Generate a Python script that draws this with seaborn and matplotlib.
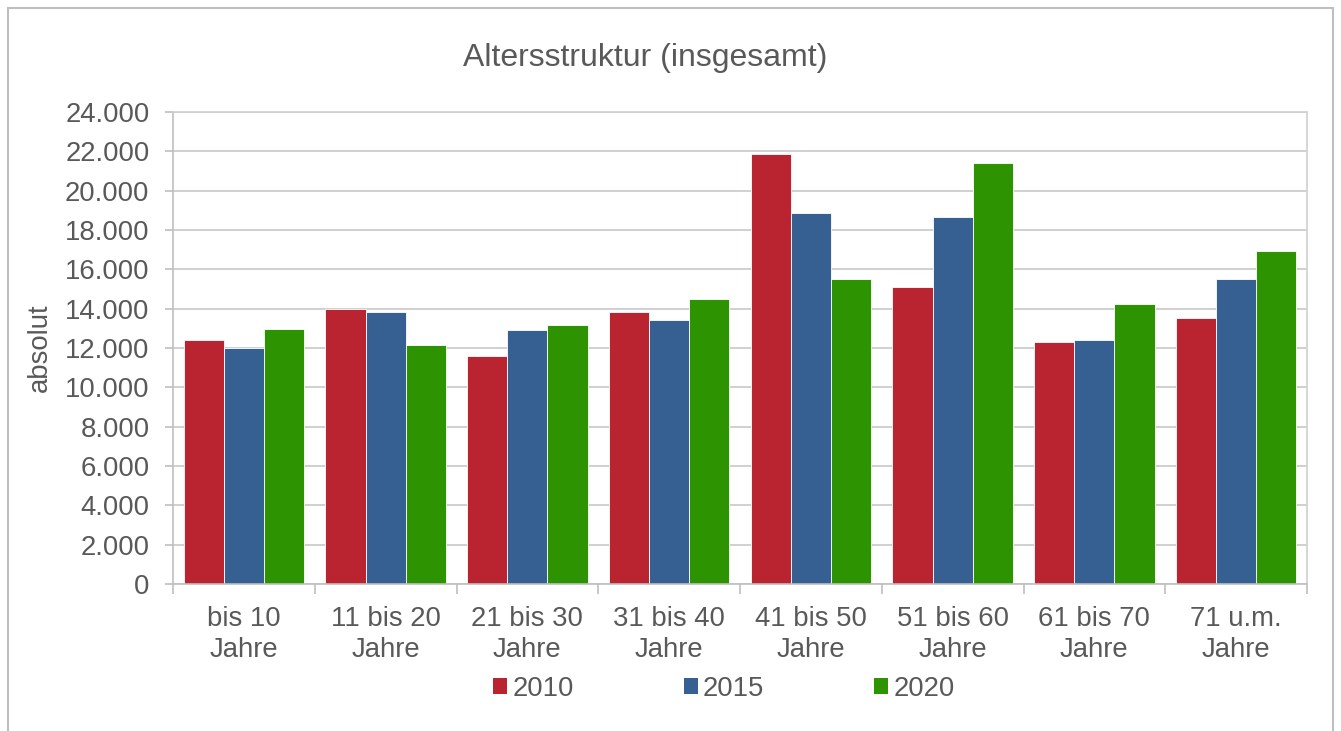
import numpy as np
import pandas as pd
import matplotlib
matplotlib.use("Agg")
import matplotlib.pyplot as plt
import seaborn as sns
from matplotlib.ticker import FuncFormatter, MultipleLocator, FixedLocator
from matplotlib.patches import Rectangle

# data
categories = ["bis 10\nJahre", "11 bis 20\nJahre", "21 bis 30\nJahre", "31 bis 40\nJahre",
              "41 bis 50\nJahre", "51 bis 60\nJahre", "61 bis 70\nJahre", "71 u.m.\nJahre"]
years = ["2010", "2015", "2020"]
values_2010 = [12410, 13980, 11590, 13830, 21880, 15080, 12320, 13530]
values_2015 = [12000, 13850, 12900, 13420, 18880, 18640, 12420, 15520]
values_2020 = [12990, 12170, 13190, 14490, 15520, 21410, 14240, 16950]
colors = ["#BA2330", "#366092", "#2E9300"]

df = pd.DataFrame({
    "Altersgruppe": categories * 3,
    "Jahr": [y for y in years for _ in categories],
    "Anzahl": values_2010 + values_2015 + values_2020,
})

sns.set_theme(style="white")
plt.rcParams["font.family"] = ["Liberation Sans", "DejaVu Sans"]
text_color = "#595959"
fs = 19.8

fig = plt.figure(figsize=(13.41, 7.31), dpi=100)
ax = fig.add_axes([173 / 1341, 1 - 584 / 731, (1307 - 173) / 1341, (584 - 112) / 731])

sns.barplot(data=df, x="Altersgruppe", y="Anzahl", hue="Jahr", palette=colors,
            width=0.85, gap=0, saturation=1, ax=ax, legend=False,
            edgecolor="white", linewidth=0.6, err_kws={"linewidth": 0})

ax.set_ylim(0, 24000)
ax.set_xlim(-0.5, len(categories) - 0.5)
ax.yaxis.set_major_locator(MultipleLocator(2000))
ax.yaxis.set_major_formatter(FuncFormatter(lambda v, p: f"{int(v):,}".replace(",", ".")))
ax.grid(axis="y", color="#C8C8C8", linewidth=1.2)
ax.set_axisbelow(True)

for side in ["top", "right"]:
    ax.spines[side].set_color("#D0D0D0")
    ax.spines[side].set_linewidth(1.2)
for side in ["left", "bottom"]:
    ax.spines[side].set_color("#BFBFBF")
    ax.spines[side].set_linewidth(1.2)

ax.tick_params(axis="y", left=True, length=6, width=1.2, color="#BFBFBF",
               labelsize=fs, labelcolor=text_color, pad=11)
ax.tick_params(axis="x", which="major", length=0, labelsize=fs, labelcolor=text_color, pad=16)
ax.xaxis.set_minor_locator(FixedLocator(np.arange(-0.5, len(categories), 1.0)))
ax.tick_params(axis="x", which="minor", length=7, width=1.2, color="#BFBFBF", bottom=True)
for lbl in ax.get_xticklabels():
    lbl.set_linespacing(1.25)

ax.set_xlabel("")
ax.set_ylabel("absolut", fontsize=fs, color=text_color, labelpad=9)

fig.text(645 / 1341, 1 - 58 / 731, "Altersstruktur (insgesamt)", ha="center", va="center",
         fontsize=23, color=text_color)

handles = [Rectangle((0, 0), 1, 1, facecolor=c, edgecolor="none") for c in colors]
fig.legend(handles, years, loc="center", bbox_to_anchor=(724 / 1341, 1 - 689 / 731), ncol=3,
           frameon=False, fontsize=fs, handlelength=0.5, handleheight=0.5,
           handletextpad=0.2, columnspacing=4.0, labelcolor=text_color)

# outer chart frame (bottom edge cut off in the reference)
fig.patches.append(Rectangle((8 / 1341, -0.05), 1325 / 1341, 1.05 - 8 / 731, transform=fig.transFigure,
                             fill=False, edgecolor="#BFBFBF", linewidth=1.5))

fig.savefig("out.png", dpi=100, facecolor="white")
